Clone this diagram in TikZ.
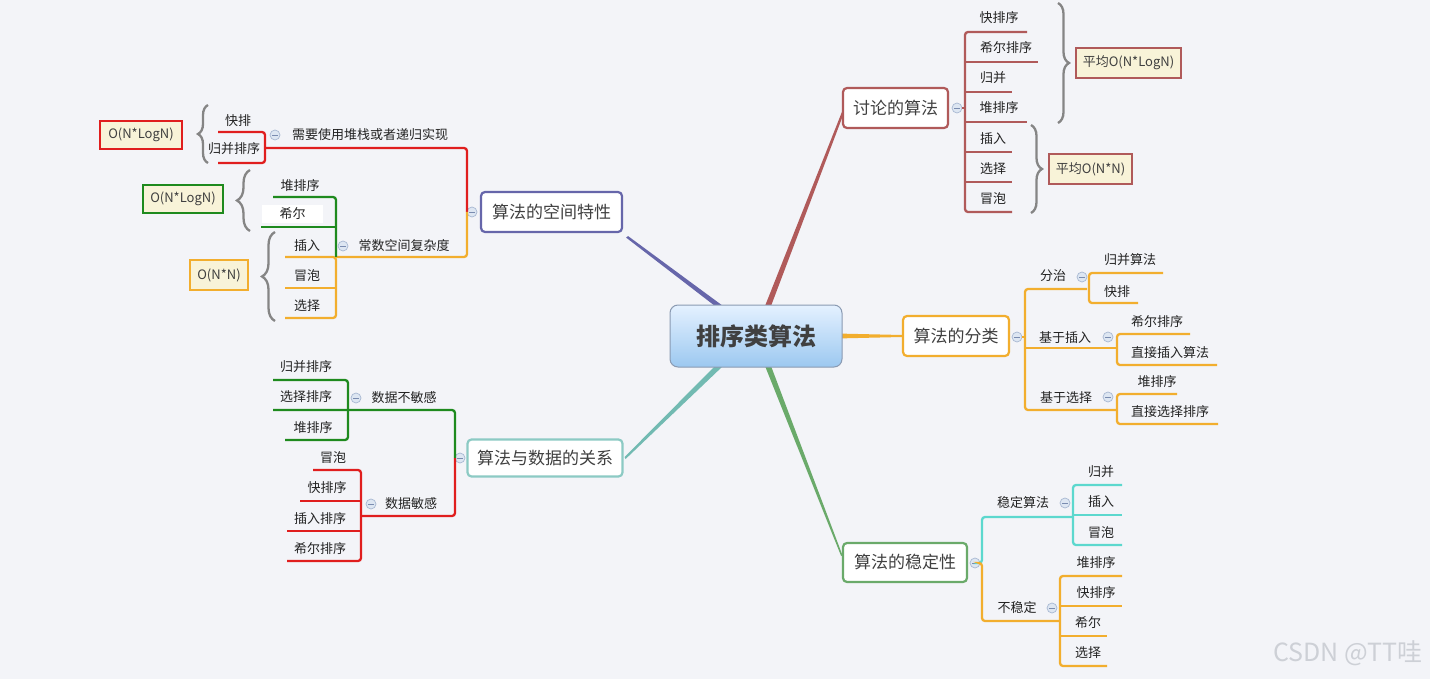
\documentclass[tikz,border=0pt]{standalone}
\usepackage{fontspec}
\setmainfont{Noto Sans CJK SC}
\usetikzlibrary{calc,decorations.pathreplacing}
\definecolor{bg}{HTML}{F3F4F8}
\definecolor{txt}{HTML}{222222}
\definecolor{mtxt}{HTML}{404040}
\definecolor{purp}{HTML}{6666AA}
\definecolor{dred}{HTML}{B05A5A}
\definecolor{orng}{HTML}{F2AE2E}
\definecolor{teal}{HTML}{72BAB2}
\definecolor{tealb}{HTML}{8CCAC4}
\definecolor{sgrn}{HTML}{6AAA6A}
\definecolor{bred}{HTML}{E01E1E}
\definecolor{dgrn}{HTML}{1E8A1E}
\definecolor{cyan2}{HTML}{5CD8CE}
\definecolor{cream}{HTML}{F8F3D8}
\definecolor{bracegray}{HTML}{858585}
\definecolor{circb}{HTML}{A8B8D2}
\definecolor{circf}{HTML}{DDE6F2}
\definecolor{circm}{HTML}{7A8CB0}
\definecolor{ctop}{HTML}{E4F1FF}
\definecolor{cbot}{HTML}{9CC8F0}
\definecolor{cbord}{HTML}{8A9AB2}
\definecolor{wm}{HTML}{CDD0D6}
\tikzset{
  mainbox/.style={draw=#1, rounded corners=4pt, line width=2.2pt, fill=white,
    font=\fontsize{17}{20}\selectfont, text=mtxt, inner sep=0pt},
  leaf/.style={font=\fontsize{13}{15}\selectfont, text=txt, inner sep=0pt},
  cbox/.style={draw=#1, line width=2.6pt, fill=cream,
    font=\fontsize{13}{15}\selectfont, text=mtxt, inner sep=0pt},
  br/.style={draw=#1, line width=2.3pt, rounded corners=3pt},
  bracebr/.style={decorate, decoration={brace, amplitude=#1}, draw=bracegray, line width=2.3pt},
  ccirc/.style={circle, draw=circb, fill=circf, line width=0.7pt, minimum size=10pt, inner sep=0pt,
    path picture={\draw[circm, line width=0.9pt] ([xshift=-2.6pt]path picture bounding box.center) -- ([xshift=2.6pt]path picture bounding box.center);}}
}
\begin{document}
\begin{tikzpicture}[x=1pt,y=-1pt]
\useasboundingbox (0,0) rectangle (1430,679);
\fill[bg] (0,0) rectangle (1430,679);

% ---------- main boxes ----------
\node[mainbox=purp, minimum width=141, minimum height=40] (sp) at (551.5,212) {算法的空间特性};
\node[mainbox=dred, minimum width=105, minimum height=40] (dis) at (895.5,108) {讨论的算法};
\node[mainbox=orng, minimum width=106, minimum height=40] (cls) at (956,336) {算法的分类};
\node[mainbox=tealb, minimum width=155, minimum height=37] (dat) at (545,458) {算法与数据的关系};
\node[mainbox=sgrn, minimum width=124, minimum height=39] (stb) at (905,562.5) {算法的稳定性};

% ---------- tapered connectors from centre ----------
\coordinate (cc) at (756,336);
\fill[purp] ($(cc)+(-41,-30)$) -- ($(cc)+(-33,-30)$) -- ($(sp.south east)+(5,3)$) -- ($(sp.south east)+(3,4.5)$) -- cycle;
\fill[dred] ($(cc)+(9,-30)$) -- ($(cc)+(15,-30)$) -- ($(dis.west)+(2,5)$) -- ($(dis.west)+(0,4)$) -- cycle;
\fill[teal] ($(cc)+(-41,30)$) -- ($(cc)+(-33,30)$) -- ($(dat.east)+(2,1)$) -- ($(dat.east)+(1,-1)$) -- cycle;
\fill[sgrn] ($(cc)+(9,30)$) -- ($(cc)+(15,30)$) -- ($(stb.west)+(1,-6)$) -- ($(stb.west)+(-1,-7)$) -- cycle;
\fill[orng] ($(cc)+(80,-2.5)$) -- ($(cls.west)+(0,-1)$) -- ($(cls.west)+(0,1)$) -- ($(cc)+(80,2.5)$) -- cycle;

% ---------- centre ----------
\node[draw=cbord, line width=1pt, rounded corners=8pt, top color=ctop, bottom color=cbot,
  minimum width=172, minimum height=62, inner sep=0pt,
  font=\fontsize{24}{28}\selectfont\bfseries, text=mtxt] (c) at (cc) {排序类算法};

% ================= 算法的空间特性 =================
\node[ccirc] (spk) at (472,212) {};
\draw[br=bred] (467,212) -- (467,148) -- (265,148);
\draw[br=bred] (218,132) -- (265,132) -- (265,163) -- (218,163);
\draw[br=orng] (467,212) -- (467,257) -- (336,257);
\draw[br=orng] (285,257) -- (336,257) -- (336,318) -- (285,318);
\draw[br=orng] (285,288) -- (336,288);
\draw[br=dgrn] (273,197) -- (336,197) -- (336,257);
\draw[br=dgrn] (261,227) -- (336,227);

\node[leaf] (s1) at (370,135) {需要使用堆栈或者递归实现};
\node[ccirc] (s1k) at (275,135) {};
\node[leaf] (s11) at (238,121) {快排};
\node[leaf] (s12) at (234,149) {归并排序};
\node[leaf] (s2) at (404,246) {常数空间复杂度};
\node[ccirc] (s2k) at (343,246) {};
\node[leaf] (s21) at (300,186) {堆排序};
\node[leaf, fill=white, minimum width=61, minimum height=18] (s22) at (292.5,214) {希尔};
\node[leaf] (s23) at (307,246) {插入};
\node[leaf] (s24) at (307,276) {冒泡};
\node[leaf] (s25) at (307,306) {选择};

\draw[bracebr=10pt] (208,163) -- (208,105);
\draw[bracebr=13pt] (250,231) -- (250,170);
\draw[bracebr=13pt] (275,321) -- (275,232);
\node[cbox=bred, minimum width=82, minimum height=28] (o1) at (141,135) {O(N*LogN)};
\node[cbox=dgrn, minimum width=80, minimum height=28] (o2) at (183,199) {O(N*LogN)};
\node[cbox=orng, minimum width=58, minimum height=30] (o3) at (219,275) {O(N*N)};

% ================= 算法与数据的关系 =================
\node[ccirc] (dk) at (460,458) {};
\draw[br=dgrn] (455,458) -- (455,410) -- (273,410);
\draw[br=dgrn] (273,380) -- (348,380) -- (348,440) -- (285,440);
\draw[br=bred] (455,458) -- (455,516) -- (361,516);
\draw[br=bred] (313,470) -- (361,470) -- (361,561) -- (287,561);
\draw[br=bred] (300,501) -- (361,501);
\draw[br=bred] (287,531) -- (361,531);

\node[leaf] (d1) at (404,398) {数据不敏感};
\node[ccirc] (d1k) at (356,398) {};
\node[leaf] (d11) at (306,367) {归并排序};
\node[leaf] (d12) at (306,397) {选择排序};
\node[leaf] (d13) at (313,428) {堆排序};
\node[leaf] (d2) at (411,504) {数据敏感};
\node[ccirc] (d2k) at (371,504) {};
\node[leaf] (d21) at (333,458) {冒泡};
\node[leaf] (d22) at (327,488) {快排序};
\node[leaf] (d23) at (320,519) {插入排序};
\node[leaf] (d24) at (320,549) {希尔排序};

% ================= 讨论的算法 =================
\node[ccirc] (ak) at (957,108) {};
\draw[br=dred] (1027,32) -- (965,32) -- (965,212) -- (1012,212);
\draw[br=dred] (ak.east) -- (965,108);
\draw[br=dred] (965,62) -- (1038,62);
\draw[br=dred] (965,92) -- (1012,92);
\draw[br=dred] (965,122) -- (1027,122);
\draw[br=dred] (965,152) -- (1012,152);
\draw[br=dred] (965,182) -- (1012,182);
\node[leaf] (a1) at (999,18) {快排序};
\node[leaf] (a2) at (1006,48) {希尔排序};
\node[leaf] (a3) at (993,78) {归并};
\node[leaf] (a4) at (999,108) {堆排序};
\node[leaf] (a5) at (993,139) {插入};
\node[leaf] (a6) at (993,169) {选择};
\node[leaf] (a7) at (993,199) {冒泡};
\draw[bracebr=11pt] (1058,3) -- (1058,123);
\draw[bracebr=11pt] (1031,125) -- (1031,213);
\node[cbox=dred, minimum width=105, minimum height=30] (p1) at (1128.5,63) {平均O(N*LogN)};
\node[cbox=dred, minimum width=83, minimum height=30] (p2) at (1090.5,169) {平均O(N*N)};

% ================= 算法的分类 =================
\node[ccirc] (bk) at (1017,337) {};
\draw[br=orng] (1087,289) -- (1025,289) -- (1025,410) -- (1117,410);
\draw[br=orng] (bk.east) -- (1025,337);
\draw[br=orng] (1025,348) -- (1117,348);
\draw[br=orng] (1163,273) -- (1089,273) -- (1089,303) -- (1138,303);
\draw[br=orng] (1190,334) -- (1117,334) -- (1117,365) -- (1217,365);
\draw[br=orng] (1177,394) -- (1117,394) -- (1117,424) -- (1218,424);
\node[leaf] (b1) at (1053,276) {分治};
\node[ccirc] (b1k) at (1082,277) {};
\node[leaf] (b2) at (1065,338) {基于插入};
\node[ccirc] (b2k) at (1108,337) {};
\node[leaf] (b3) at (1066,398) {基于选择};
\node[ccirc] (b3k) at (1108,397) {};
\node[leaf] (b11) at (1130,260) {归并算法};
\node[leaf] (b12) at (1117,292) {快排};
\node[leaf] (b21) at (1157,322) {希尔排序};
\node[leaf] (b22) at (1170,353) {直接插入算法};
\node[leaf] (b31) at (1157,382) {堆排序};
\node[leaf] (b32) at (1170,412) {直接选择排序};

% ================= 算法的稳定性 =================
\node[ccirc] (tk) at (975,563) {};
\draw[br=cyan2] (tk.east) -- (982,563) -- (982,517) -- (1073,517);
\draw[br=cyan2] (1122,485) -- (1073,485) -- (1073,545) -- (1122,545);
\draw[br=cyan2] (1073,515) -- (1122,515);
\draw[br=orng] (tk.east) -- (982,563) -- (982,621) -- (1060,621);
\draw[br=orng] (1122,576) -- (1060,576) -- (1060,666) -- (1107,666);
\draw[br=orng] (1060,606) -- (1122,606);
\draw[br=orng] (1060,636) -- (1107,636);
\node[leaf] (t1) at (1023,503) {稳定算法};
\node[ccirc] (t1k) at (1065,503) {};
\node[leaf] (t2) at (1017,608) {不稳定};
\node[ccirc] (t2k) at (1052,608) {};
\node[leaf] (t11) at (1101,472) {归并};
\node[leaf] (t12) at (1101,502) {插入};
\node[leaf] (t13) at (1101,533) {冒泡};
\node[leaf] (t21) at (1096,563) {堆排序};
\node[leaf] (t22) at (1096,593) {快排序};
\node[leaf] (t23) at (1088,623) {希尔};
\node[leaf] (t24) at (1088,653) {选择};

% watermark
\node[font=\fontsize{25}{30}\selectfont, text=wm, anchor=west, inner sep=0pt] (wmk) at (1273,653) {CSDN @TT哇};
\end{tikzpicture}
\end{document}
